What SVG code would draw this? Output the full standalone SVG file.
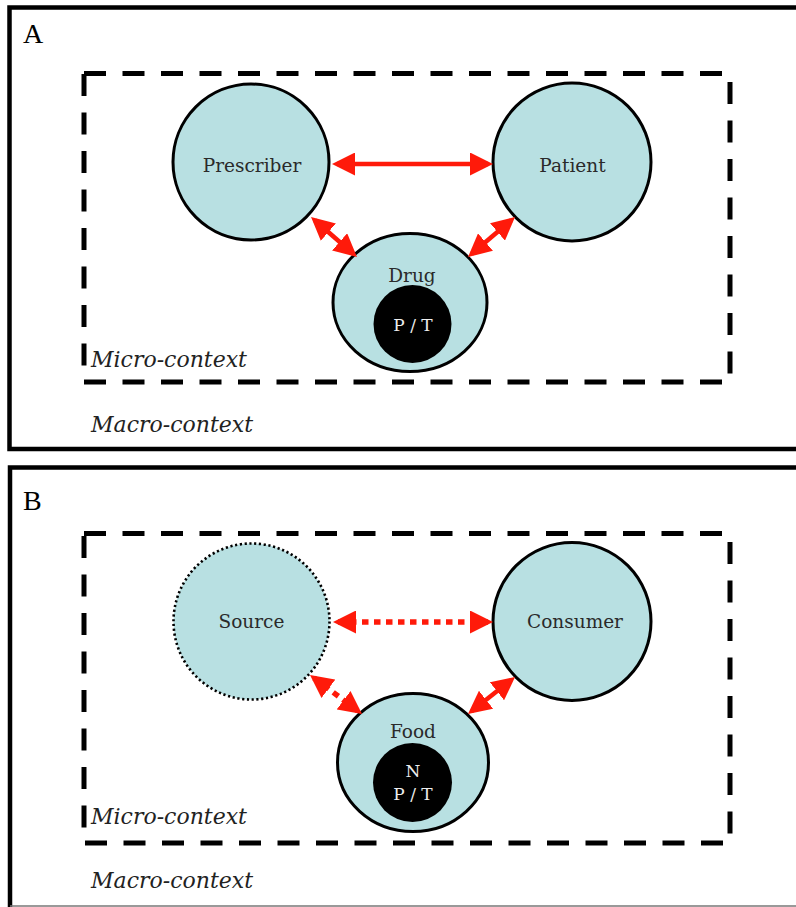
<svg xmlns="http://www.w3.org/2000/svg" width="796" height="907" viewBox="0 0 796 907">
<style>
.panel{fill:none;stroke:#000;stroke-width:4.5}
.ctx{fill:none;stroke:#000;stroke-width:5;stroke-dasharray:22 16.5}
.node{fill:#b8e0e2;stroke:#000;stroke-width:3}
.dotted{stroke-dasharray:2.2 2.6;stroke-width:2.6}
.core{fill:#000}
.lbl{font-family:"DejaVu Serif","Liberation Serif",serif;font-size:18.5px;fill:#2a2a2a;text-anchor:middle}
.clbl{font-family:"DejaVu Serif","Liberation Serif",serif;font-size:17px;fill:#eee;text-anchor:middle}
.ctxl{font-family:"DejaVu Serif","Liberation Serif",serif;font-style:italic;font-size:22px;fill:#222}
.pl{font-family:"Liberation Serif","Times New Roman",serif;font-size:28px;fill:#000}
.arr{stroke:#ff1a0a;stroke-width:4.5;fill:none;marker-start:url(#ah);marker-end:url(#ah)}
.dot{stroke-width:5.5;stroke-dasharray:6.5 5.5}
</style>
<defs>
<marker id="ah" viewBox="0 0 23 23" markerWidth="23" markerHeight="23" refX="18" refY="11.5" orient="auto-start-reverse" markerUnits="userSpaceOnUse">
<path d="M0,0 L23,11.5 L0,23 z" fill="#ff1a0a"/>
</marker>
</defs>

<!-- Panel A -->
<g id="panelA">
<path class="panel" d="M810,7.5 H9.5 V449 H810"/>
<text class="pl" x="23" y="43">A</text>
<rect id="microA" class="ctx" x="84" y="73.5" width="646" height="308.5"/>
<text class="ctxl" x="91" y="367">Micro-context</text>
<text class="ctxl" x="91" y="432">Macro-context</text>
</g>
<g id="prescriber">
<circle class="node" cx="251" cy="162" r="78"/>
<text class="lbl" x="252" y="172">Prescriber</text>
</g>
<g id="patient">
<circle class="node" cx="572" cy="162" r="79"/>
<text class="lbl" x="572.5" y="172">Patient</text>
</g>
<g id="drug">
<ellipse class="node" cx="410" cy="302.5" rx="77" ry="69"/>
<text class="lbl" x="412" y="282">Drug</text>
<circle class="core" cx="412.5" cy="324" r="39"/>
<text class="clbl" x="413" y="331">P / T</text>
</g>

<!-- Panel B -->
<g id="panelB">
<path class="panel" d="M810,467.5 H10 V907"/>
<line x1="10" y1="906" x2="796" y2="906" stroke="#777" stroke-width="1.5"/>
<text class="pl" x="23" y="510">B</text>
<rect id="microB" class="ctx" x="84" y="533.5" width="646" height="309.5"/>
<text class="ctxl" x="91" y="824">Micro-context</text>
<text class="ctxl" x="91" y="888">Macro-context</text>
</g>
<g id="source">
<circle class="node dotted" cx="251.5" cy="621.5" r="78"/>
<text class="lbl" x="251.5" y="628">Source</text>
</g>
<g id="consumer">
<circle class="node" cx="572" cy="621.5" r="79"/>
<text class="lbl" x="575" y="628">Consumer</text>
</g>
<g id="food">
<ellipse class="node" cx="413" cy="762.5" rx="75.5" ry="69"/>
<text class="lbl" x="413" y="738">Food</text>
<circle class="core" cx="412.5" cy="782.5" r="39.5"/>
<text class="clbl" x="413" y="777">N</text>
<text class="clbl" x="413" y="800">P / T</text>
</g>

<!-- Connectors -->
<g id="connectors">
<line class="arr" x1="337" y1="164" x2="488" y2="164"/>
<line class="arr" x1="314.8" y1="220.3" x2="353.2" y2="253.7"/>
<line class="arr" x1="511.2" y1="220.2" x2="471.8" y2="253.8"/>
<line class="arr dot" x1="338" y1="622" x2="488" y2="622"/>
<line class="arr dot" x1="314" y1="678" x2="358" y2="711"/>
<line class="arr" x1="511.1" y1="680.1" x2="471.9" y2="710.9"/>
</g>
</svg>
